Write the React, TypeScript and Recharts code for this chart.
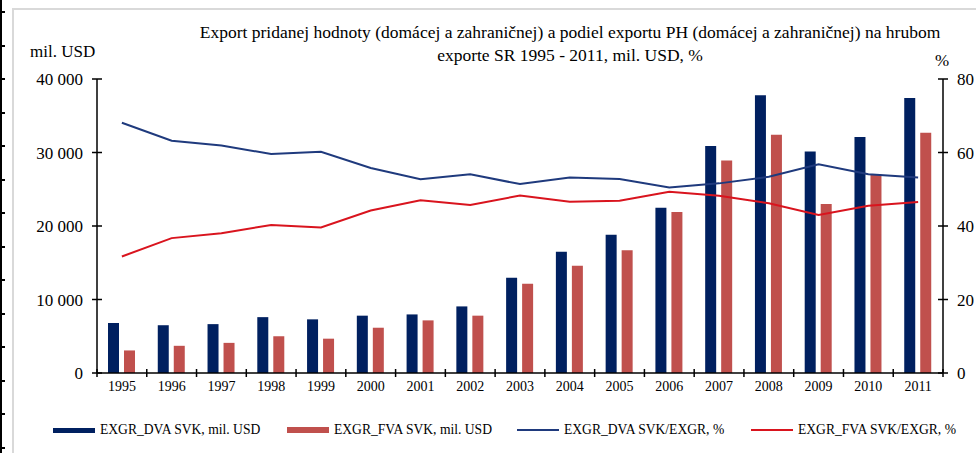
import React from 'react';
import { ComposedChart, Bar, Line, XAxis, YAxis, Legend } from 'recharts';

const years = ['1995', '1996', '1997', '1998', '1999', '2000', '2001', '2002', '2003', '2004', '2005', '2006', '2007', '2008', '2009', '2010', '2011'];
// mil. USD
const dvaExport = [6800, 6500, 6650, 7600, 7300, 7800, 7970, 9060, 12970, 16500, 18800, 22500, 30900, 37800, 30150, 32100, 37400];
const fvaExport = [3070, 3700, 4100, 5000, 4670, 6160, 7160, 7800, 12150, 14600, 16700, 21900, 28900, 32400, 23000, 27000, 32700];
// % of gross exports
const dvaShare = [68.1, 63.2, 61.9, 59.6, 60.2, 55.8, 52.7, 54.1, 51.4, 53.2, 52.8, 50.5, 51.6, 53.4, 56.8, 54.1, 53.2];
const fvaShare = [31.7, 36.7, 38.0, 40.3, 39.6, 44.2, 47.0, 45.7, 48.3, 46.6, 46.9, 49.3, 48.2, 46.2, 43.0, 45.5, 46.5];

const leftTicks = [0, 10000, 20000, 30000, 40000];
const rightTicks = [0, 20, 40, 60, 80];

const data = years.map((year, i) => ({
  year,
  dva: dvaExport[i],
  fva: fvaExport[i],
  dvaPct: dvaShare[i],
  fvaPct: fvaShare[i],
}));

const FONT = '"Liberation Serif", "Times New Roman", serif';
const DVA_BAR = '#002060';
const FVA_BAR = '#C0504D';
const DVA_LINE = '#1F3A7D';
const FVA_LINE = '#D9141E';

const PLOT_W = 846;
const BAND = PLOT_W / years.length;

const fmt = (v: number) => String(v).replace(/\B(?=(\d{3})+(?!\d))/g, ' ');

const LeftTick = (props: any) => {
  const { x, y, payload } = props;
  return (
    <g>
      <line x1={x - 5} x2={x + 5} y1={y} y2={y} stroke="#000" strokeWidth={1.5} />
      <text x={x - 14} y={y} dy={6} textAnchor="end" fontSize={17} fontFamily={FONT} fill="#000">
        {fmt(payload.value)}
      </text>
    </g>
  );
};

const RightTick = (props: any) => {
  const { x, y, payload } = props;
  return (
    <g>
      <line x1={x - 5} x2={x + 5} y1={y} y2={y} stroke="#000" strokeWidth={1.5} />
      <text x={x + 14} y={y} dy={6} textAnchor="start" fontSize={17} fontFamily={FONT} fill="#000">
        {payload.value}
      </text>
    </g>
  );
};

const YearTick = (props: any) => {
  const { x, y, payload, index } = props;
  const left = x - BAND / 2;
  return (
    <g>
      <line x1={left} x2={left} y1={y - 4} y2={y + 4} stroke="#000" strokeWidth={1.5} />
      {index === years.length - 1 && (
        <line x1={x + BAND / 2} x2={x + BAND / 2} y1={y - 4} y2={y + 4} stroke="#000" strokeWidth={1.5} />
      )}
      <text x={x} y={y} dy={18} textAnchor="middle" fontSize={14} fontFamily={FONT} fill="#000">
        {payload.value}
      </text>
    </g>
  );
};

const legendItems = [
  { label: 'EXGR_DVA SVK, mil. USD', color: DVA_BAR, h: 5, left: 53 },
  { label: 'EXGR_FVA SVK, mil. USD', color: FVA_BAR, h: 6, left: 287 },
  { label: 'EXGR_DVA SVK/EXGR, %', color: DVA_LINE, h: 2, left: 517 },
  { label: 'EXGR_FVA SVK/EXGR, %', color: FVA_LINE, h: 2, left: 751 },
];

const LegendContent = () => (
  <div style={{ position: 'relative', width: 976, height: 20, fontFamily: FONT, fontSize: 13.6, color: '#000' }}>
    {legendItems.map((it) => (
      <div key={it.label} style={{ position: 'absolute', left: it.left, top: 0, height: 20, display: 'flex', alignItems: 'center', whiteSpace: 'nowrap' }}>
        <span style={{ display: 'inline-block', width: 42, height: it.h, background: it.color, marginRight: 5 }} />
        <span>{it.label}</span>
      </div>
    ))}
  </div>
);

export default function App() {
  return (
    <div style={{ position: 'absolute', left: 0, top: 0, width: 976, height: 453, background: '#fff', overflow: 'hidden' }}>
      <div
        style={{
          position: 'absolute', left: 0, top: 0, width: 5, height: 453,
          borderLeft: '2px solid #000', boxSizing: 'border-box',
          background: 'repeating-linear-gradient(to bottom, transparent 0px, transparent 11px, #000 11px, #000 13px, transparent 13px, transparent 33.5px)',
        }}
      />
      <div style={{ position: 'absolute', left: 12, top: 8, right: -4, bottom: -4, borderTop: '2px solid #d9d9d9', borderLeft: '2px solid #d9d9d9' }} />
      <div style={{ position: 'absolute', left: 0, top: 0 }}>
        <ComposedChart width={976} height={453} data={data} margin={{ top: 79, right: 0, bottom: 50, left: 0 }} barSize={11} barGap={5}>
          <XAxis dataKey="year" height={30} axisLine={{ stroke: '#000', strokeWidth: 1.5 }} tickLine={false} tickSize={0} tickMargin={0} tick={<YearTick />} interval={0} />
          <YAxis yAxisId="left" width={97} domain={[0, 40000]} ticks={leftTicks} axisLine={{ stroke: '#000', strokeWidth: 1.5 }} tickLine={false} tickSize={0} tickMargin={0} tick={<LeftTick />} />
          <YAxis yAxisId="right" orientation="right" width={33} domain={[0, 80]} ticks={rightTicks} axisLine={{ stroke: '#000', strokeWidth: 1.5 }} tickLine={false} tickSize={0} tickMargin={0} tick={<RightTick />} />
          <Bar yAxisId="left" dataKey="dva" name="EXGR_DVA SVK, mil. USD" fill={DVA_BAR} isAnimationActive={false} />
          <Bar yAxisId="left" dataKey="fva" name="EXGR_FVA SVK, mil. USD" fill={FVA_BAR} isAnimationActive={false} />
          <Line yAxisId="right" type="linear" dataKey="dvaPct" name="EXGR_DVA SVK/EXGR, %" stroke={DVA_LINE} strokeWidth={2} dot={false} isAnimationActive={false} />
          <Line yAxisId="right" type="linear" dataKey="fvaPct" name="EXGR_FVA SVK/EXGR, %" stroke={FVA_LINE} strokeWidth={2} dot={false} isAnimationActive={false} />
          <Legend layout="horizontal" verticalAlign="middle" align="center" content={<LegendContent />} wrapperStyle={{ position: 'absolute', top: 420, left: 0, width: 976, height: 20 }} />
        </ComposedChart>
      </div>
      <div style={{ position: 'absolute', left: 170, width: 800, top: 21, textAlign: 'center', fontFamily: FONT, fontSize: 17.5, lineHeight: '23px', color: '#000', whiteSpace: 'nowrap' }}>
        Export pridanej hodnoty (domácej a zahraničnej) a podiel exportu PH (domácej a zahraničnej) na hrubom
        <br />
        exporte SR 1995 - 2011, mil. USD, %
      </div>
      <div style={{ position: 'absolute', left: 30, top: 42, fontFamily: FONT, fontSize: 17, color: '#000' }}>mil. USD</div>
      <div style={{ position: 'absolute', left: 935, top: 51, fontFamily: FONT, fontSize: 17, color: '#000' }}>%</div>
    </div>
  );
}
